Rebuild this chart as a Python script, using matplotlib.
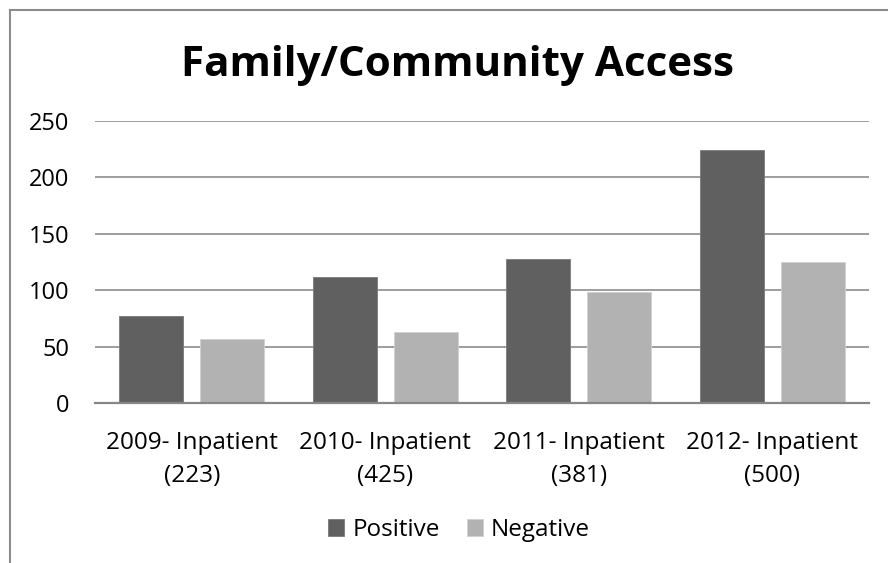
import matplotlib
matplotlib.use("Agg")
import matplotlib.pyplot as plt
from matplotlib.lines import Line2D
import numpy as np

categories = ["2009- Inpatient\n(223)", "2010- Inpatient\n(425)", "2011- Inpatient\n(381)", "2012- Inpatient\n(500)"]
positive = [77, 112, 128, 224]
negative = [57, 63, 98, 125]
yticks = [0, 50, 100, 150, 200, 250]

plt.rcParams['font.family'] = ['Open Sans', 'DejaVu Sans']

fig = plt.figure(figsize=(8.88, 5.63), dpi=100)
W, H = 888, 563
ax = fig.add_axes([95 / W, 1 - 403 / H, (869 - 95) / W, (403 - 121) / H])

x = np.arange(len(categories))
bw = 0.33
off = 0.209
ax.bar(x - off, positive, bw, color="#606060", edgecolor="#7a7a7a", linewidth=0.6, label="Positive", zorder=3)
ax.bar(x + off, negative, bw, color="#b2b2b2", edgecolor="#d0d0d0", linewidth=0.6, label="Negative", zorder=3)

ax.set_xlim(-0.5, len(categories) - 0.5)
ax.set_ylim(0, 250)
ax.set_yticks(yticks)
ax.set_xticks(x)
ax.set_xticklabels(categories, fontsize=17.5, linespacing=1.48)
ax.tick_params(axis='y', length=0, pad=18.7, labelsize=17)
ax.tick_params(axis='x', length=0, pad=20.5)
ax.grid(axis='y', color="#8c8c8c", linewidth=1.2, zorder=0)
for s in ['top', 'right', 'left']:
    ax.spines[s].set_visible(False)
ax.spines['bottom'].set_color("#868686")
ax.spines['bottom'].set_linewidth(1.6)
ax.spines['bottom'].set_zorder(4)

fig.text(457 / W, 1 - 76 / H, "Family/Community Access", ha='center', va='baseline',
         fontsize=30.3, fontweight='bold')

leg = fig.legend(loc='center', bbox_to_anchor=(459 / W, 1 - 530 / H), ncol=2, frameon=False,
                 fontsize=17.5, handlelength=0.66, handleheight=0.66, handletextpad=0.33,
                 columnspacing=1.1)

# outer chart frame
fig.add_artist(Line2D([9.5 / W, 9.5 / W], [0, 1 - 9.5 / H], color="#8c8c8c", linewidth=1.5))
fig.add_artist(Line2D([9.5 / W, 1], [1 - 9.5 / H, 1 - 9.5 / H], color="#8c8c8c", linewidth=1.5))

fig.savefig("out.png", dpi=100)
